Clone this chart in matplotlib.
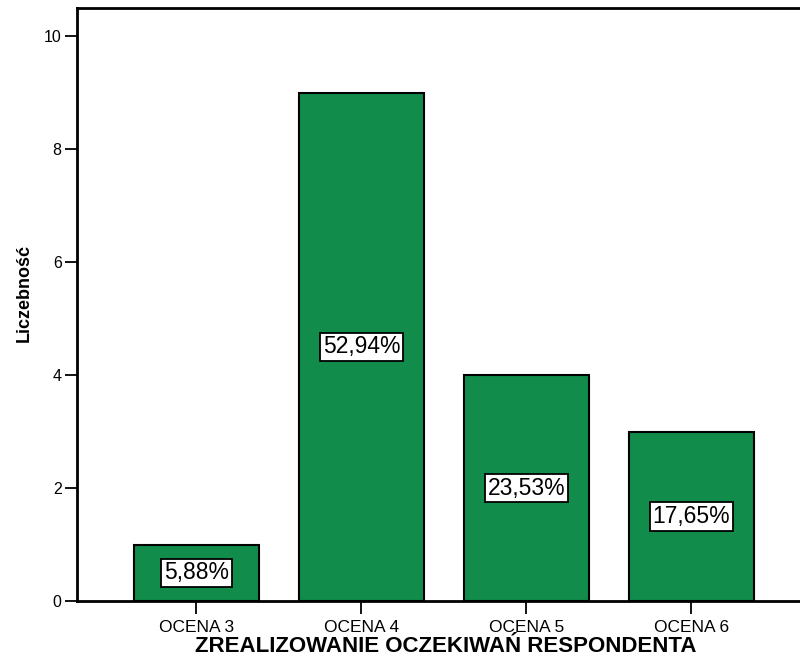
import matplotlib
matplotlib.use("Agg")
import matplotlib.pyplot as plt
import numpy as np

# dane z wykresu
kategorie = ["OCENA 3", "OCENA 4", "OCENA 5", "OCENA 6"]
liczebnosc = [1, 9, 4, 3]
procenty = ["5,88%", "52,94%", "23,53%", "17,65%"]

plt.rcParams['font.family'] = ['Liberation Sans', 'DejaVu Sans']

fig = plt.figure(figsize=(8, 6.56), dpi=100)
ax = fig.add_axes([77 / 800, 1 - 601 / 656, 1 - 77 / 800, (601 - 8) / 656])

x = np.arange(len(kategorie))
ax.bar(x, liczebnosc, width=0.757, color="#118c4a", edgecolor="black", linewidth=1.5, zorder=2)

# etykiety procentowe w srodku slupkow
for xi, v, p in zip(x, liczebnosc, procenty):
    ax.text(xi, v / 2, p, ha="center", va="center", fontsize=16.5, zorder=3,
            bbox=dict(boxstyle="square,pad=0.12", facecolor="white", edgecolor="black", linewidth=1.3))

ax.set_xlim(-0.724, 3.658)
ax.set_ylim(0, 10.5)
ax.set_yticks([0, 2, 4, 6, 8, 10])
ax.set_xticks(x)
ax.set_xticklabels(kategorie)
ax.tick_params(axis="both", length=9, width=1.3, color="black")
ax.tick_params(axis="x", labelsize=12.5, pad=5)
ax.tick_params(axis="y", labelsize=11.5, pad=2)

for s in ["left", "top", "bottom"]:
    ax.spines[s].set_linewidth(2)
ax.spines["right"].set_visible(False)

ax.set_xlabel("ZREALIZOWANIE OCZEKIWAŃ RESPONDENTA", fontsize=16, fontweight="bold", va="baseline")
ax.xaxis.set_label_coords((446 - 77) / 723, -(652 - 601) / 593)
ax.set_ylabel("Liczebność", fontsize=13, fontweight="bold",
              family=['Liberation Sans Narrow', 'Liberation Sans', 'DejaVu Sans'])
ax.yaxis.set_label_coords((33 - 77) / 723, (601 - 293) / 593)

fig.savefig("out.png", dpi=100)
